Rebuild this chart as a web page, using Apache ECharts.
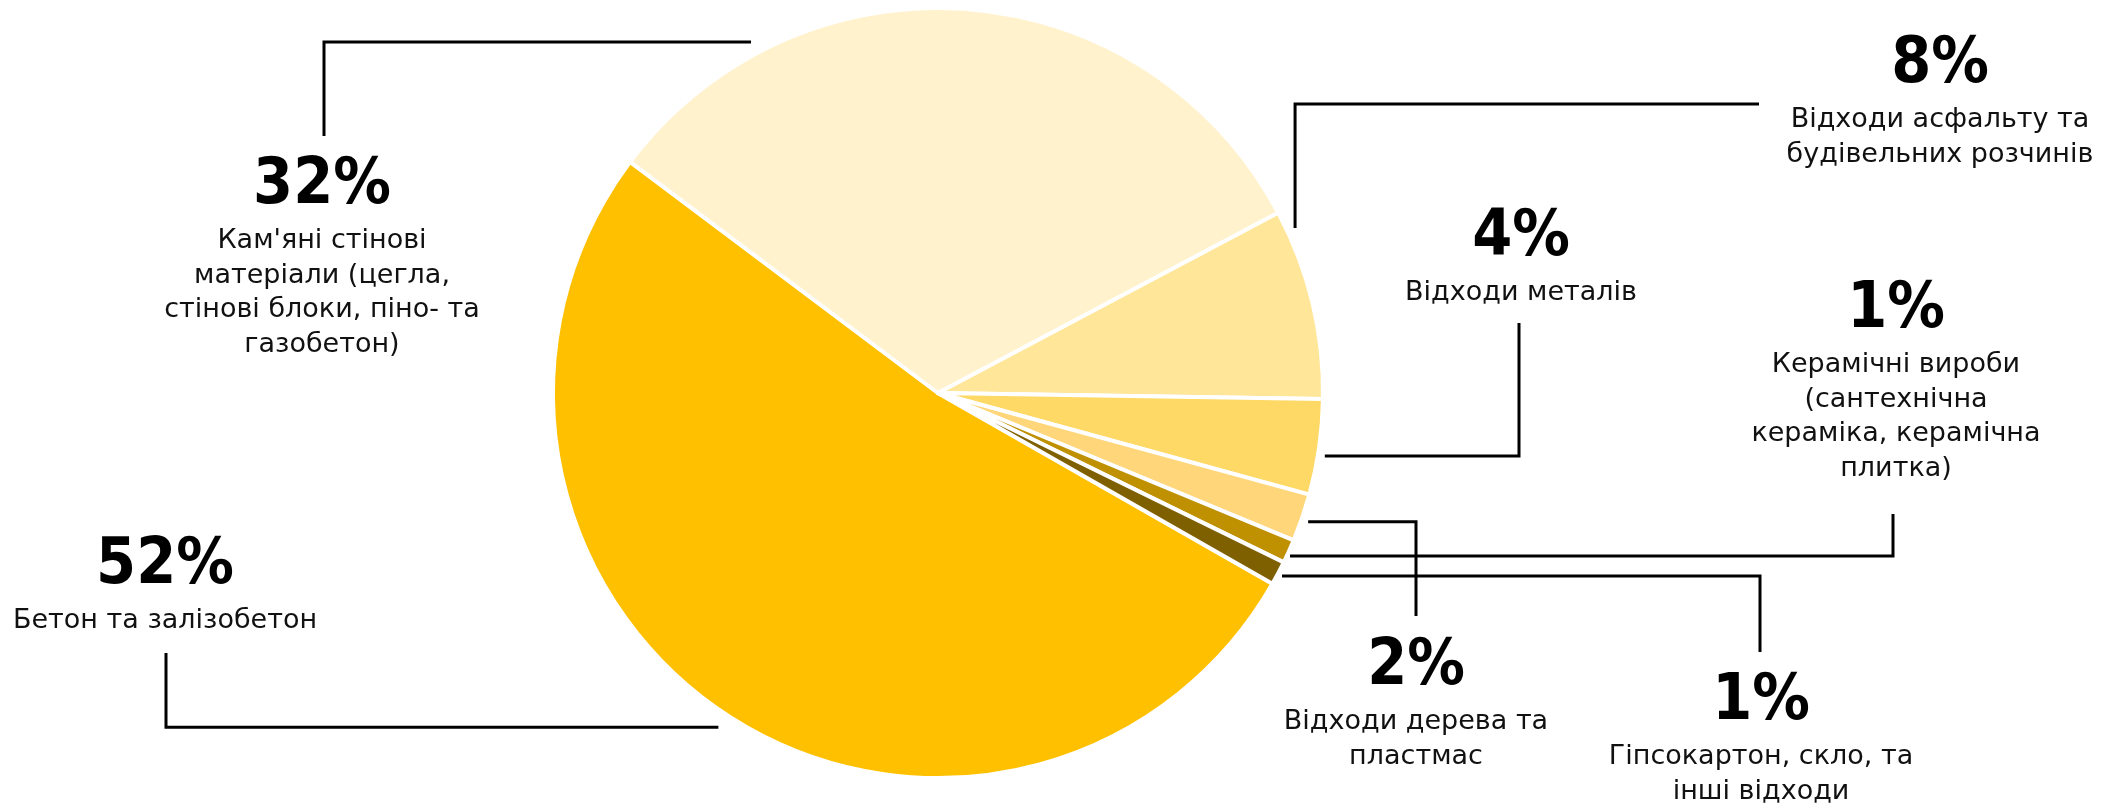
<!DOCTYPE html>
<html>
<head>
<meta charset="utf-8">
<script src="https://cdn.jsdelivr.net/npm/echarts@6/dist/echarts.min.js"></script>
<style>
  html, body { margin: 0; padding: 0; background: #ffffff; }
  #chart { width: 2105px; height: 804px; }
</style>
</head>
<body>
<div id="chart"></div>
<script>
// Composition of construction and demolition waste, %
const categories = [
  'Бетон та залізобетон',
  "Кам'яні стінові\nматеріали (цегла,\nстінові блоки, піно- та\nгазобетон)",
  'Відходи асфальту та\nбудівельних розчинів',
  'Відходи металів',
  'Відходи дерева та\nпластмас',
  'Керамічні вироби\n(сантехнічна\nкераміка, керамічна\nплитка)',
  'Гіпсокартон, скло, та\nінші відходи'
];
const shares = [52, 32, 8, 4, 2, 1, 1];

// Slice fills, same order as the categories
const sliceColors = ['#FFC000', '#FFF2CC', '#FFE699', '#FFD966', '#FFD67A', '#BF9000', '#7F6000'];

// Pie geometry
const CENTER = [938, 393];
const RADIUS = 385;
const START_ANGLE = 330.3;

// Label blocks: [centre x, top y]
const labelSpots = [
  [165, 528], [322, 148], [1940, 27], [1521, 200],
  [1416, 629], [1896, 272], [1761, 664]
];

// Leader lines: [position along the slice 0..1, radial factor, route, elbow, end]
// 'hv' = horizontal to x=elbow, then vertical to y=end
// 'vh' = vertical to y=elbow, then horizontal to x=end
const leaders = [
  [0.50, 1.039, 'hv', 166, 653],
  [0.2175, 1.033, 'hv', 324, 136],
  [0.108, 1.0216, 'vh', 104, 1759],
  [0.58, 1.018, 'hv', 1519, 323],
  [0.54, 1.018, 'hv', 1416, 616],
  [0.65, 1.0075, 'hv', 1893, 514],
  [0.53, 1.012, 'hv', 1760, 652]
];

const total = shares.reduce((a, b) => a + b, 0);

function leaderPoints(i) {
  const [frac, k, route, elbow, end] = leaders[i];
  let cum = 0;
  for (let j = 0; j < i; j++) cum += shares[j];
  const a0 = START_ANGLE - cum / total * 360;
  const ang = (a0 - frac * shares[i] / total * 360) * Math.PI / 180;
  const x = CENTER[0] + RADIUS * k * Math.cos(ang);
  const y = CENTER[1] - RADIUS * k * Math.sin(ang);
  if (route === 'hv') return [[x, y], [elbow, y], [elbow, end]];
  return [[x, y], [x, elbow], [end, elbow]];
}

const chart = echarts.init(document.getElementById('chart'), null, { renderer: 'canvas' });

chart.setOption({
  backgroundColor: '#ffffff',
  animation: false,
  series: [{
    type: 'pie',
    center: CENTER,
    radius: RADIUS,
    startAngle: START_ANGLE,
    clockwise: true,
    avoidLabelOverlap: false,
    data: shares.map((v, i) => ({
      value: v,
      name: categories[i],
      itemStyle: { color: sliceColors[i] }
    })),
    itemStyle: { borderColor: '#ffffff', borderWidth: 4 },
    emphasis: { disabled: true },
    label: {
      show: true,
      position: 'outside',
      color: '#000',
      formatter: p => `{v|${p.value}%}\n{t|${p.name}}`,
      rich: {
        v: {
          fontFamily: "'Liberation Sans Narrow', 'DejaVu Sans Condensed', sans-serif",
          fontWeight: 'bold',
          fontSize: 64,
          lineHeight: 76,
          color: '#000'
        },
        t: {
          fontFamily: "'DejaVu Sans', sans-serif",
          fontSize: 27,
          lineHeight: 34.5,
          color: '#111'
        }
      }
    },
    labelLine: { show: false },
    labelLayout: p => ({
      x: labelSpots[p.dataIndex][0],
      y: labelSpots[p.dataIndex][1],
      align: 'center',
      verticalAlign: 'top'
    })
  }],
  graphic: shares.map((v, i) => ({
    type: 'polyline',
    z: 10,
    silent: true,
    shape: { points: leaderPoints(i) },
    style: { stroke: '#000', lineWidth: 3, fill: null }
  }))
});
</script>
</body>
</html>
